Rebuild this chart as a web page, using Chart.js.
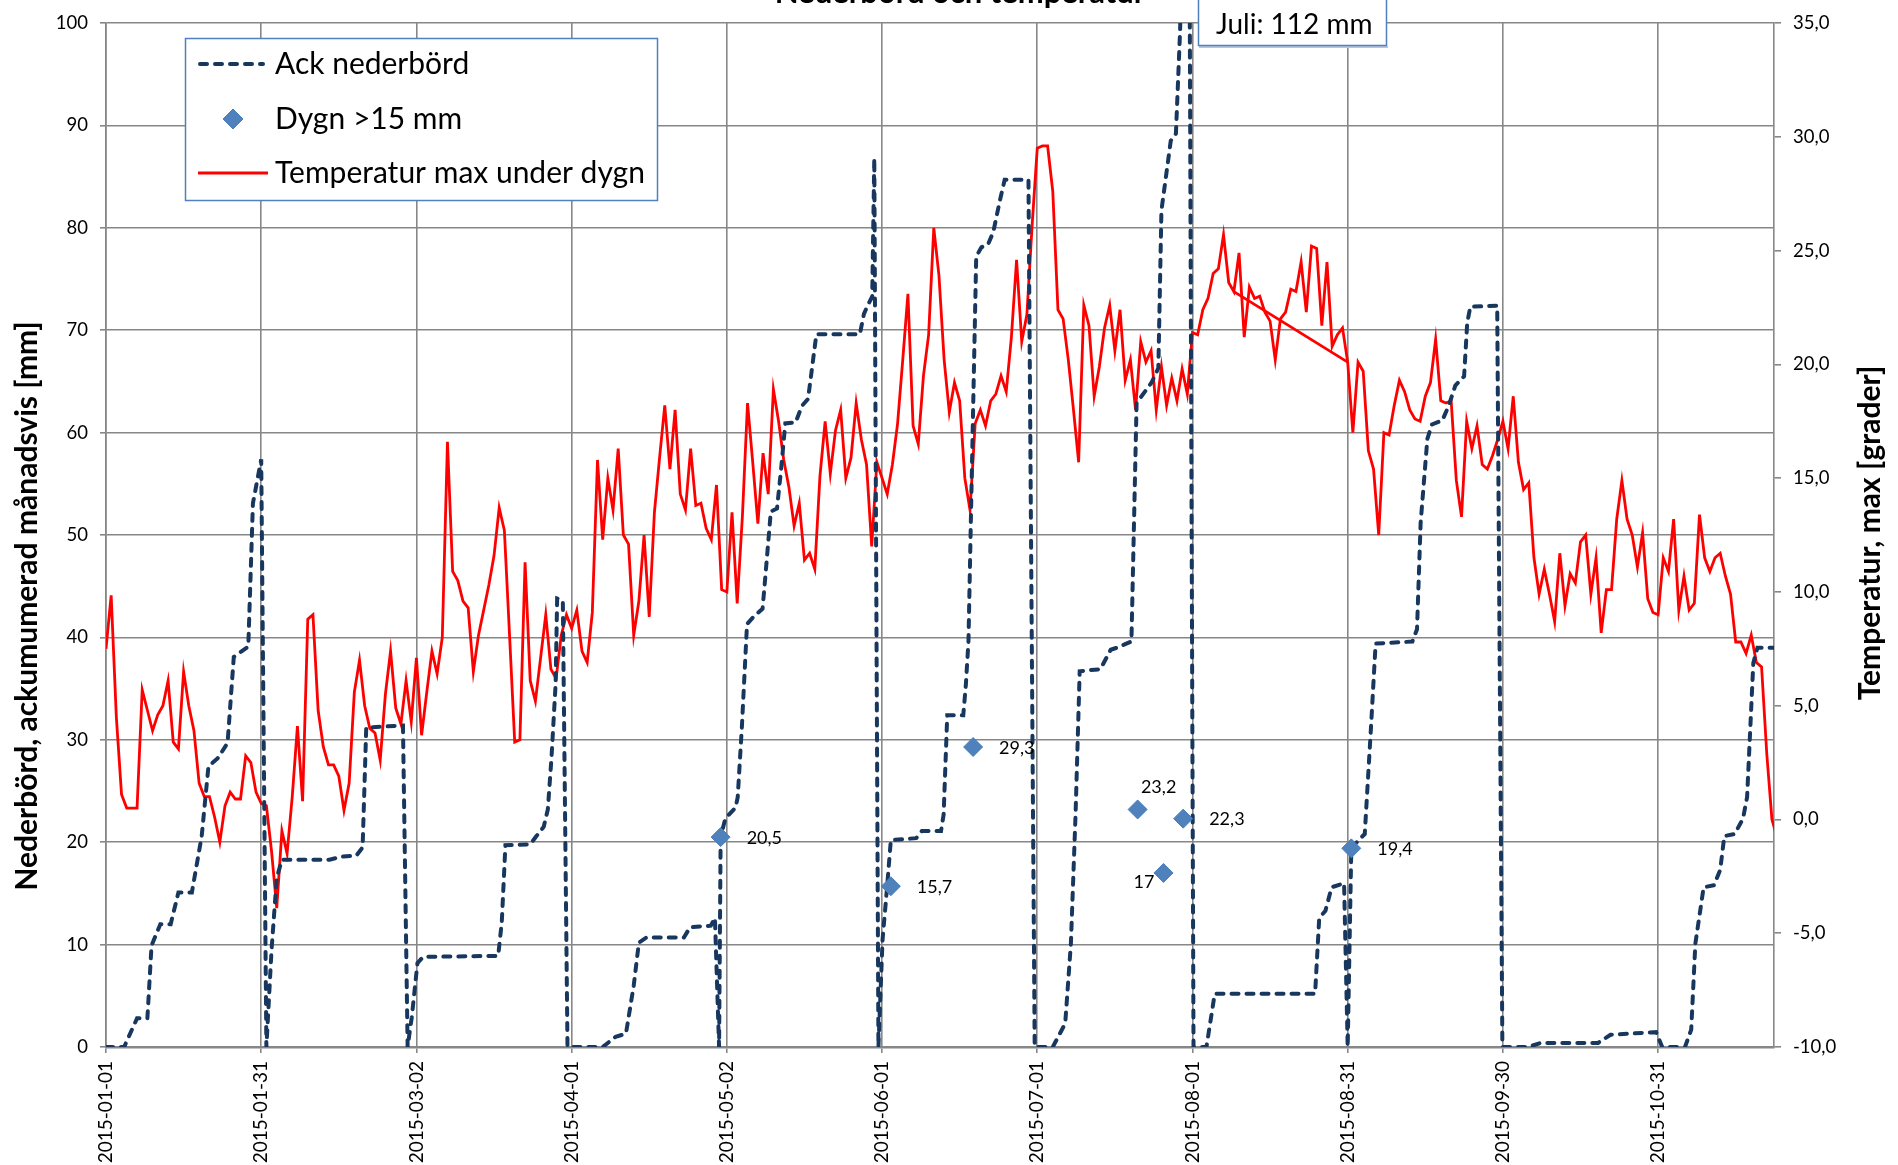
<!DOCTYPE html>
<html>
<head>
<meta charset="utf-8">
<title>Nederbörd och temperatur</title>
<script src="https://cdn.jsdelivr.net/npm/chart.js@4.4.1/dist/chart.umd.min.js"></script>
<style>
  html, body { margin: 0; padding: 0; background: #fff; }
  #wrap { width: 1898px; height: 1165px; }
</style>
</head>
<body>
<div id="wrap"><canvas id="chart" width="1898" height="1165"></canvas></div>
<script>
// values (x = day index, 0 = 2015-01-01)
const tickDays = [0, 30, 60, 90, 120, 150, 180, 210, 240, 270, 300];
const tickLabels = ['2015-01-01', '2015-01-31', '2015-03-02', '2015-04-01', '2015-05-02',
  '2015-06-01', '2015-07-01', '2015-08-01', '2015-08-31', '2015-09-30', '2015-10-31'];

// max temperature per day
const tempMax = [
  7.5, 9.85, 4.5, 1.1, 0.5, 0.5, 0.5, 5.7, 4.8, 3.9,
  4.6, 5.0, 6.1, 3.4, 3.1, 6.5, 5.0, 3.9, 1.6, 1.0,
  1.0, 0.1, -1.0, 0.6, 1.2, 0.9, 0.9, 2.8, 2.5, 1.2,
  0.7, 0.6, -1.4, -3.9, -0.5, -1.5, 1.0, 4.1, 0.8, 8.8,
  9.0, 4.8, 3.2, 2.4, 2.4, 1.9, 0.4, 1.6, 5.6, 7.0,
  5.0, 4.0, 3.8, 2.6, 5.5, 7.4, 4.9, 4.2, 6.1, 4.3,
  7.1, 3.7, 5.6, 7.4, 6.4, 8.0, 16.6, 10.9, 10.5, 9.6,
  9.3, 6.5, 8.1, 9.2, 10.3, 11.6, 13.7, 12.7, 8.1, 3.4,
  3.5, 11.3, 6.1, 5.2, 7.1, 9.0, 6.6, 6.2, 8.1, 9.0,
  8.4, 9.2, 7.4, 6.9, 9.1, 15.8, 12.3, 15.0, 13.6, 16.3,
  12.5, 12.1, 8.1, 9.6, 12.5, 8.9, 13.5, 15.9, 18.2, 15.4,
  18.0, 14.3, 13.6, 16.3, 13.8, 13.9, 12.8, 12.3, 14.7, 10.1,
  10.0, 13.5, 9.5, 13.3, 18.3, 15.7, 13.0, 16.1, 14.3, 18.9,
  17.5, 15.8, 14.6, 12.9, 13.9, 11.4, 11.7, 11.0, 15.1, 17.5,
  15.2, 17.1, 18.0, 15.0, 15.9, 18.3, 16.7, 15.6, 12.0, 15.7,
  15.0, 14.3, 15.6, 17.4, 20.2, 23.1, 17.3, 16.5, 19.5, 21.3,
  26.0, 23.9, 20.2, 17.9, 19.2, 18.4, 15.0, 13.6, 17.4, 18.0,
  17.3, 18.4, 18.7, 19.5, 18.8, 21.2, 24.6, 21.0, 22.2, 26.1,
  29.5, 29.6, 29.6, 27.6, 22.4, 22.0, 20.2, 18.0, 15.7, 22.6,
  21.7, 18.6, 19.9, 21.6, 22.6, 20.6, 22.4, 19.3, 20.2, 18.0,
  21.0, 20.1, 20.6, 18.0, 19.9, 18.2, 19.4, 18.4, 19.8, 18.7,
  21.4, 21.3, 22.4, 22.9, 24.0, 24.2, 25.7, 23.6, 23.2, 24.9,
  21.2, 23.4, 22.9, 23.0, 22.3, 21.9, 20.2, 22.0, 22.3, 23.3,
  23.2, 24.5, 22.3, 25.2, 25.1, 21.7, 24.5, 20.8, 21.3, 21.6,
  20.1, 17.0, 20.1, 19.7, 16.2, 15.4, 12.5, 17.0, 16.9, 18.2,
  19.3, 18.8, 18.0, 17.6, 17.5, 18.6, 19.2, 21.1, 18.4, 18.3,
  18.4, 14.9, 13.3, 17.5, 16.3, 17.3, 15.6, 15.4, 16.0, 16.7,
  17.5, 16.3, 18.6, 15.7, 14.5, 14.8, 11.5, 9.9, 11.0, 9.9,
  8.7, 11.7, 9.4, 10.8, 10.4, 12.2, 12.5, 9.9, 11.5, 8.2,
  10.1, 10.1, 13.2, 14.9, 13.2, 12.5, 11.1, 12.6, 9.7, 9.1,
  9.0, 11.5, 10.9, 13.2, 9.2, 10.7, 9.2, 9.5, 13.4, 11.5,
  10.9, 11.5, 11.7, 10.7, 9.9, 7.8, 7.8, 7.3, 8.1, 6.9,
  6.7, 2.9, 0.0, -0.8
];
// the original series also has a straight segment between these two days
const tempJump = [218, 240];

// accumulated precipitation per month (breakpoints of the curve)
const precipDays = [
  0, 3.5, 6, 8, 8.8, 10.5, 12.5, 14, 16.6, 18.5, 19.8, 21.6, 23.5, 24.7, 27.5, 28.4, 30,
  31, 32, 33, 34, 43.2, 45.8, 48.4, 49.6, 50.3, 57.4, 58.3,
  59.1, 60.2, 61.3, 75.8, 76.5, 77.2, 82, 83.2, 84.6, 85.4, 86.1, 86.9, 87.2, 88.3, 89.2,
  96, 98.5, 100.5, 102, 103, 104.5, 111.7, 112.9, 116.9, 117.7, 118.5,
  118.8, 119.7, 121.7, 122.1, 122.9, 123.9, 125.3, 126.9, 127.3, 128.5, 129.7, 130.5, 131.3,
  133.3, 134.5, 135.7, 137.3, 145.7, 146.5, 147.3, 148.1, 148.5, 149.3,
  150.1, 150.9, 151.7, 156.6, 157.7, 161.4, 161.9, 162.6, 165.7, 166.2, 166.7, 167.2, 168.2,
  169.2, 170.5, 171.5, 172.7, 173.7, 178.3, 179.5,
  183, 185.4, 186.5, 187.4, 188.2, 192.2, 194.2, 195.4, 198.2, 199.2, 202.1, 203.4, 204,
  205.8, 206.8, 207.6, 208.3, 209.4, 210.2,
  212.7, 214.3, 233.7, 234.5, 235.7, 236.9, 239.3, 240,
  240.7, 242.1, 243.3, 244.5, 245.4, 252.5, 253.4, 254.1, 255.4, 256.3, 258.3, 259.5,
  260.8, 262.5, 263.1, 263.7, 268.9, 269.9,
  274.9, 277.3, 288.4, 290.8, 299.6, 300.8,
  305.2, 306.4, 307.2, 308.8, 310.8, 312, 312.8, 314.8, 316.4, 317.2, 318.4, 319.2, 322.4
];
const precipAcc = [
  0, 0, 2.8, 2.8, 9.9, 12, 12, 15.1, 15.1, 20.6, 27.4, 28.2, 29.7, 38.1, 39.1, 53.1, 57.4,
  0, 9.5, 16.5, 18.3, 18.3, 18.6, 18.7, 19.5, 31.2, 31.4, 0,
  2.9, 8.2, 8.8, 8.9, 12.2, 19.7, 19.8, 20.6, 21.5, 23.2, 28.2, 35.4, 43.8, 43.6, 0,
  0, 1.0, 1.3, 6, 10.2, 10.7, 10.7, 11.7, 11.85, 12.6, 0,
  20.5, 22.3, 23.4, 24.4, 31.2, 41.3, 42.1, 42.8, 45.1, 52.3, 52.6, 56.5, 60.9,
  61.0, 62.6, 63.3, 69.6, 69.6, 71.6, 72.5, 73.3, 86.8, 0,
  10.5, 15.2, 20.2, 20.4, 21.1, 21.1, 22.7, 32.4, 32.4, 35.4, 39.6, 52.3, 77.2,
  78.1, 78.4, 79.6, 82.5, 84.7, 84.7, 0,
  0, 2.3, 10.1, 22.7, 36.7, 36.9, 38.8, 39.0, 39.6, 62.9, 64.9, 66.3, 81.7,
  88.5, 89.2, 99.2, 112, 112, 0,
  0, 5.2, 5.2, 12.6, 13.3, 15.6, 16.0, 0,
  19.4, 20.2, 20.8, 31.2, 39.4, 39.6, 40.8, 51.2, 59.4, 60.8, 61.2, 62.6,
  64.6, 65.5, 70.7, 72.3, 72.4, 0,
  0, 0.4, 0.4, 1.2, 1.45, 0,
  0, 1.7, 10.1, 15.6, 15.8, 17.3, 20.6, 20.8, 22.3, 24.4, 37.5, 39.0, 39.0
];

// days with more than 15 mm
const heavyDays = [118.8, 151.7, 167.6, 199.4, 204.4, 208.2, 240.7];
const heavyMm = [20.5, 15.7, 29.3, 23.2, 17, 22.3, 19.4];

const chartTitle = 'Nederbörd och temperatur';
const julyNote = 'Juli: 112 mm';

// label offsets next to the diamonds: [dx, dy, align]
const labelSpots = [[26, 1, 'left'], [26, 1, 'left'], [26, 1, 'left'], [21, -22, 'center'],
  [-9, 9, 'right'], [26, 1, 'left'], [26, 1, 'left']];

const FONT = 'Lato, "Open Sans", sans-serif';
const GRID = '#878787';
const NAVY = '#17375E';
const RED = '#FF0000';
const DIAMOND = '#4F81BD';

Chart.defaults.font.family = FONT;
Chart.defaults.color = '#000';

const fmt = v => String(v).replace('.', ',');

function drawDiamond(ctx, x, y, r) {
  ctx.beginPath();
  ctx.moveTo(x - r, y);
  ctx.lineTo(x, y - r);
  ctx.lineTo(x + r, y);
  ctx.lineTo(x, y + r);
  ctx.closePath();
  ctx.fillStyle = DIAMOND;
  ctx.fill();
  ctx.strokeStyle = '#4A7EBB';
  ctx.lineWidth = 1;
  ctx.stroke();
}

const decorations = {
  id: 'decorations',
  afterDraw(chart) {
    const ctx = chart.ctx;
    ctx.save();

    // title (cut off at the top in the original)
    ctx.fillStyle = '#000';
    ctx.font = 'bold 31px ' + FONT;
    ctx.textAlign = 'center';
    ctx.textBaseline = 'alphabetic';
    ctx.fillText(chartTitle, 960, 3);

    // value labels for the diamonds
    ctx.font = '18px ' + FONT;
    ctx.textBaseline = 'middle';
    chart.getDatasetMeta(0).data.forEach((pt, i) => {
      const s = labelSpots[i];
      ctx.textAlign = s[2];
      ctx.fillText(fmt(heavyMm[i]), pt.x + s[0], pt.y + s[1]);
    });

    // axis titles
    ctx.font = 'bold 30px ' + FONT;
    ctx.textAlign = 'center';
    ctx.save();
    ctx.translate(27, 606);
    ctx.rotate(-Math.PI / 2);
    ctx.fillText('Nederbörd, ackumumerad månadsvis [mm]', 0, 0);
    ctx.restore();
    ctx.save();
    ctx.translate(1870, 533);
    ctx.rotate(-Math.PI / 2);
    ctx.fillText('Temperatur, max [grader]', 0, 0);
    ctx.restore();

    // legend box
    ctx.fillStyle = '#fff';
    ctx.fillRect(185, 38, 473, 163);
    ctx.strokeStyle = DIAMOND;
    ctx.lineWidth = 1.5;
    ctx.strokeRect(185.5, 38.5, 472, 162);

    ctx.lineWidth = 4;
    ctx.lineCap = 'round';
    ctx.setLineDash([7, 8]);
    ctx.strokeStyle = NAVY;
    ctx.beginPath();
    ctx.moveTo(200, 64);
    ctx.lineTo(263, 64);
    ctx.stroke();
    ctx.setLineDash([]);
    ctx.lineCap = 'butt';

    drawDiamond(ctx, 233, 119, 10);

    ctx.strokeStyle = RED;
    ctx.lineWidth = 3;
    ctx.beginPath();
    ctx.moveTo(198, 173);
    ctx.lineTo(268, 173);
    ctx.stroke();

    ctx.fillStyle = '#000';
    ctx.font = '30px ' + FONT;
    ctx.textAlign = 'left';
    ctx.textBaseline = 'middle';
    ctx.fillText(chart.data.datasets[1].label, 275, 64);
    ctx.fillText(chart.data.datasets[0].label, 275, 119);
    ctx.fillText(chart.data.datasets[2].label, 275, 173);

    // July note box
    ctx.fillStyle = '#fff';
    ctx.fillRect(1198, -2, 189, 48);
    ctx.strokeStyle = '#b7c6dc';
    ctx.lineWidth = 2;
    ctx.beginPath();
    ctx.moveTo(1199, 47);
    ctx.lineTo(1388, 47);
    ctx.stroke();
    ctx.strokeStyle = DIAMOND;
    ctx.lineWidth = 1.5;
    ctx.strokeRect(1198.5, -2, 188, 47.5);
    ctx.fillStyle = '#000';
    ctx.font = '28px ' + FONT;
    ctx.textAlign = 'left';
    ctx.textBaseline = 'alphabetic';
    ctx.fillText(julyNote, 1216, 34);

    ctx.restore();
  }
};

const precipPoints = precipDays.map((d, i) => ({ x: d, y: precipAcc[i] }));
const tempPoints = tempMax.map((t, i) => ({ x: i, y: t }));
const jumpPoints = tempJump.map(d => ({ x: d, y: tempMax[d] }));
const heavyPoints = heavyDays.map((d, i) => ({ x: d, y: heavyMm[i] }));

new Chart(document.getElementById('chart'), {
  type: 'line',
  data: {
    datasets: [
      {
        label: 'Dygn >15 mm',
        data: heavyPoints,
        yAxisID: 'y',
        showLine: false,
        pointStyle: 'rectRot',
        pointRadius: 9.5,
        pointBackgroundColor: DIAMOND,
        pointBorderColor: '#4A7EBB',
        pointBorderWidth: 1,
        order: 0
      },
      {
        label: 'Ack nederbörd',
        data: precipPoints,
        yAxisID: 'y',
        borderColor: NAVY,
        borderWidth: 4,
        borderDash: [7, 8],
        borderCapStyle: 'round',
        pointRadius: 0,
        tension: 0,
        order: 1
      },
      {
        label: 'Temperatur max under dygn',
        data: tempPoints,
        yAxisID: 'y2',
        borderColor: RED,
        borderWidth: 2.8,
        pointRadius: 0,
        tension: 0,
        order: 2
      },
      {
        label: 'jump',
        data: jumpPoints,
        yAxisID: 'y2',
        borderColor: RED,
        borderWidth: 2.8,
        pointRadius: 0,
        order: 2
      }
    ]
  },
  options: {
    responsive: false,
    animation: false,
    layout: { padding: { top: 18, left: 0, right: 0, bottom: 0 } },
    plugins: {
      legend: { display: false },
      tooltip: { enabled: false },
      title: { display: false }
    },
    scales: {
      x: {
        type: 'linear',
        min: 0,
        max: 322.4,
        afterBuildTicks: s => { s.ticks = tickDays.map(v => ({ value: v })); },
        afterFit: s => { s.height = 118; },
        ticks: {
          autoSkip: false,
          minRotation: 90,
          maxRotation: 90,
          padding: 8,
          font: { size: 19 },
          callback: (v, i) => tickLabels[i]
        },
        grid: { color: GRID, lineWidth: 1.6, tickLength: 6 },
        border: { color: GRID, width: 2.5 }
      },
      y: {
        position: 'left',
        min: 0,
        max: 100,
        afterFit: s => { s.width = 106; },
        ticks: { stepSize: 10, padding: 12, font: { size: 18.5 } },
        grid: { color: GRID, lineWidth: 1.6, tickLength: 6 },
        border: { color: GRID, width: 1.6 }
      },
      y2: {
        position: 'right',
        min: -10,
        max: 35,
        afterFit: s => { s.width = 124; },
        ticks: {
          stepSize: 5,
          padding: 12,
          font: { size: 18.5 },
          callback: v => v.toFixed(1).replace('.', ',')
        },
        grid: { drawOnChartArea: false, color: GRID, lineWidth: 1.6, tickLength: 7 },
        border: { color: GRID, width: 1.6 }
      }
    }
  },
  plugins: [decorations]
});
</script>
</body>
</html>
